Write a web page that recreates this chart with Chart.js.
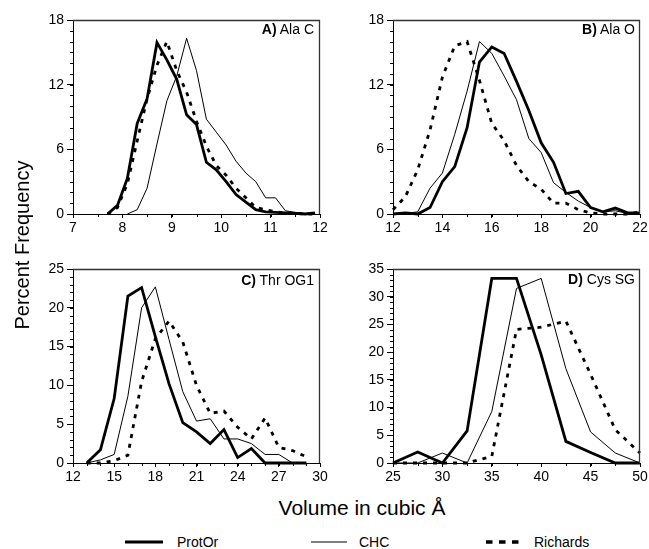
<!DOCTYPE html>
<html><head><meta charset="utf-8">
<script src="https://cdn.jsdelivr.net/npm/chart.js@4/dist/chart.umd.min.js"></script>
<style>
html,body{margin:0;padding:0;background:#fff;}
#wrap{position:relative;width:649px;height:549px;overflow:hidden;font-family:"Liberation Sans",Arial,sans-serif;color:#000;}
canvas{position:absolute;}
.plab{position:absolute;font-size:14px;line-height:16px;white-space:nowrap;text-align:right;}
.t{position:absolute;white-space:nowrap;}
</style></head>
<body><div id="wrap">
<canvas id="cA" width="330" height="240" style="left:0;top:0"></canvas>
<canvas id="cB" width="330" height="240" style="left:320px;top:0"></canvas>
<canvas id="cC" width="330" height="240" style="left:0;top:249px"></canvas>
<canvas id="cD" width="330" height="240" style="left:320px;top:249px"></canvas>
<div class="plab" style="right:335px;top:21px"><b>A)</b> Ala C</div>
<div class="plab" style="right:14px;top:21px"><b>B)</b> Ala O</div>
<div class="plab" style="right:335px;top:272px"><b>C)</b> Thr OG1</div>
<div class="plab" style="right:14px;top:271px"><b>D)</b> Cys SG</div>
<div class="t" style="left:-128px;top:233px;width:300px;height:24px;line-height:24px;font-size:20px;text-align:center;transform:rotate(-90deg);">Percent Frequency</div>
<div class="t" style="left:212px;top:496px;width:300px;line-height:24px;font-size:21px;text-align:center;">Volume in cubic Å</div>
<svg style="position:absolute;left:0;top:530px" width="649" height="24">
<line x1="125" y1="12" x2="163" y2="12" stroke="#000" stroke-width="3"/>
<line x1="311" y1="12" x2="347" y2="12" stroke="#000" stroke-width="1"/>
<line x1="486" y1="12" x2="520" y2="12" stroke="#000" stroke-width="3.5" stroke-dasharray="6.5 6.5"/>
</svg>
<div class="t" style="left:177px;top:534px;font-size:14px;line-height:16px">ProtOr</div>
<div class="t" style="left:359px;top:534px;font-size:14px;line-height:16px">CHC</div>
<div class="t" style="left:534px;top:534px;font-size:14px;line-height:16px">Richards</div>
</div>
<script>
// ---- Data ----
const seriesNames = ["ProtOr", "CHC", "Richards"];

// A) Ala C
const xA    = [7.7,7.9,8.1,8.3,8.5,8.7,8.9,9.1,9.3,9.5,9.7,9.9,10.1,10.3,10.5,10.7,10.9,11.1,11.3,11.5,11.7,11.9];
const protA = [0,0.8,3.3,8.4,10.7,15.9,14.3,12.5,9.2,8.3,4.8,4.1,3.0,1.8,1.1,0.4,0.2,0.15,0.1,0.05,0,0.1];
const chcA  = [null,null,0,0.4,2.4,6.5,10.5,12.8,16.3,13.3,8.8,7.6,6.4,4.9,3.8,3.0,1.5,1.5,0.3,0.15,0.05,0.1];
const richA = [0,0.6,2.8,6.8,10.7,13.8,16.0,13.3,11.3,8.6,6.3,4.5,3.6,2.4,1.5,0.6,0.4,0.2,0.1,0.05,0,0];

// B) Ala O
const xB    = [12,12.5,13,13.5,14,14.5,15,15.5,16,16.5,17,17.5,18,18.5,19,19.5,20,20.5,21,21.5,22];
const protB = [0,0.1,0,0.6,3.0,4.4,8.0,14.1,15.5,14.9,12.3,9.6,6.6,4.8,1.9,2.1,0.6,0.2,0.55,0.1,0.1];
const chcB  = [0,0.05,0.2,2.4,3.8,7.4,11.4,16.0,14.9,12.8,10.6,7.0,5.7,2.9,2.0,1.2,0.6,0.2,0.3,0.05,0];
const richB = [0.4,1.6,4.1,7.8,12.7,15.6,16.0,12.4,8.4,6.8,4.5,3.0,2.3,1.0,1.0,0.4,0.1,0,0,0,0.2];

// C) Thr OG1
const xC    = [13,14,15,16,17,18,19,20,21,22,23,24,25,26,27,28,29];
const protC = [0,1.7,8.3,21.5,22.6,16.3,10.2,5.2,4.0,2.5,4.3,0.7,1.85,0,0,0,0];
const chcC  = [0,0.4,1.1,8.6,20.0,22.7,15.9,9.2,5.4,5.7,3.1,3.1,2.5,1.1,1.1,0,0];
const richC = [0,0,0.3,1.0,10.5,16.0,18.3,15.6,10.0,6.4,6.7,4.6,3.1,5.8,2.0,1.6,0.8];

// D) Cys SG
const xD    = [25,27.5,30,32.5,35,37.5,40,42.5,45,47.5,50];
const protD = [0,2.0,0,5.8,33.3,33.3,19.5,3.9,1.9,0,0];
const chcD  = [0,0,1.8,0,9.3,31.5,33.3,17.0,5.6,1.8,0];
const richD = [0,0,0,0,1.2,24.1,24.5,25.6,16.0,6.0,1.8];

// ---- Rendering ----
const FONT = '"Liberation Sans", Arial, sans-serif';

function frameAndMinor(xMinor, yMinor) {
  return {
    id: 'frameAndMinor',
    afterDraw(chart) {
      const {ctx, chartArea: a, scales: {x, y}} = chart;
      ctx.save();
      ctx.strokeStyle = '#000';
      ctx.lineWidth = 1;
      ctx.beginPath();
      const nx = Math.round((x.max - x.min) / xMinor);
      for (let i = 0; i <= nx; i++) {
        const px = Math.round(x.getPixelForValue(x.min + i * xMinor)) + 0.5;
        ctx.moveTo(px, a.bottom); ctx.lineTo(px, a.bottom + 3);
      }
      const ny = Math.round((y.max - y.min) / yMinor);
      for (let i = 0; i <= ny; i++) {
        const py = Math.round(y.getPixelForValue(y.min + i * yMinor)) + 0.5;
        ctx.moveTo(a.left, py); ctx.lineTo(a.left - 3, py);
      }
      ctx.stroke();
      ctx.strokeStyle = '#333';
      ctx.lineWidth = 1.3;
      ctx.beginPath();
      ctx.moveTo(a.left, a.top + 0.5); ctx.lineTo(a.right - 0.5, a.top + 0.5); ctx.lineTo(a.right - 0.5, a.bottom);
      ctx.stroke();
      ctx.restore();
    }
  };
}

function toPts(xs, ys) { return xs.map((x, i) => ({x: x, y: ys[i]})); }

function makePanel(id, xs, prot, chc, rich, xmin, xmax, xstep, xminor, ymax, ystep, yminor) {
  new Chart(document.getElementById(id), {
    type: 'line',
    data: {
      datasets: [
        {label: seriesNames[0], data: toPts(xs, prot), borderColor: '#000', borderWidth: 2.8, pointRadius: 0, tension: 0, clip: false, borderJoinStyle: 'miter'},
        {label: seriesNames[1], data: toPts(xs, chc), borderColor: '#000', borderWidth: 1, pointRadius: 0, tension: 0, clip: false, spanGaps: false},
        {label: seriesNames[2], data: toPts(xs, rich), borderColor: '#000', borderWidth: 2.8, borderDash: [4, 6], pointRadius: 0, tension: 0, clip: false}
      ]
    },
    options: {
      responsive: false, animation: false, events: [],
      layout: {padding: {left: 0, top: 20, right: 10, bottom: 0}},
      plugins: {legend: {display: false}, tooltip: {enabled: false}},
      scales: {
        x: {type: 'linear', min: xmin, max: xmax,
          afterFit: s => { s.height = 26; },
          grid: {drawOnChartArea: false, tickLength: 4, color: '#000', tickColor: '#000'},
          border: {display: true, color: '#000', width: 1},
          ticks: {stepSize: xstep, autoSkip: false, maxRotation: 0, padding: 2, color: '#000', font: {family: FONT, size: 14}}},
        y: {type: 'linear', min: 0, max: ymax,
          afterFit: s => { s.width = 73; },
          grid: {drawOnChartArea: false, tickLength: 6, color: '#000', tickColor: '#000'},
          border: {display: true, color: '#000', width: 1},
          ticks: {stepSize: ystep, autoSkip: false, padding: 3, color: '#000', font: {family: FONT, size: 14}}}
      }
    },
    plugins: [frameAndMinor(xminor, yminor)]
  });
}

makePanel('cA', xA, protA, chcA, richA, 7, 12, 1, 0.5, 18, 6, 1);
makePanel('cB', xB, protB, chcB, richB, 12, 22, 2, 1, 18, 6, 1);
makePanel('cC', xC, protC, chcC, richC, 12, 30, 3, 1, 25, 5, 1);
makePanel('cD', xD, protD, chcD, richD, 25, 50, 5, 2.5, 35, 5, 1);
</script>
</body></html>
